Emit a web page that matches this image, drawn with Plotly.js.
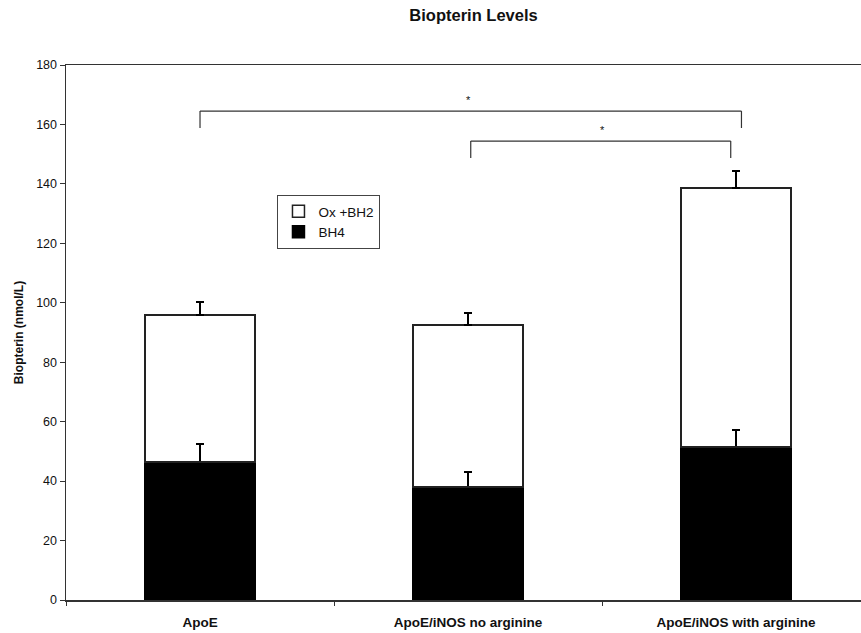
<!DOCTYPE html>
<html><head><meta charset="utf-8">
<script src="https://cdn.plot.ly/plotly-3.0.1.min.js"></script>
<style>body{margin:0;background:#fff}#c{width:861px;height:633px}</style>
</head><body><div id="c"></div>
<script>
const categories = ["ApoE", "ApoE/iNOS no arginine", "ApoE/iNOS with arginine"];
const bh4 = [46.5, 38.0, 51.5];
const bh4Err = [6.0, 5.0, 5.7];
const oxBh2 = [49.4, 54.5, 87.1];
const totalErr = [4.4, 4.1, 5.8];
const legendNames = ["Ox +BH2", "BH4"];
const yTicks = [0, 20, 40, 60, 80, 100, 120, 140, 160, 180];

const sans = "Liberation Sans, Arial, sans-serif";
const lineCol = "#333";

const traces = [
  {type: "bar", name: legendNames[1], x: categories, y: bh4,
   marker: {color: "#000", line: {color: "#000", width: 1.5}},
   error_y: {type: "data", symmetric: false, array: bh4Err, arrayminus: [0,0,0], color: "#000", thickness: 1.5, width: 4}},
  {type: "bar", name: legendNames[0], x: categories, y: oxBh2,
   marker: {color: "rgba(255,255,255,0)", line: {color: "#222", width: 1.5}},
   error_y: {type: "data", symmetric: false, array: totalErr, arrayminus: [0,0,0], color: "#000", thickness: 1.5, width: 4}}
];

const shapes = [];
function bracket(x0, x1, yTop, yBot) {
  const l = {color: "#333", width: 1.2};
  shapes.push({type: "line", xref: "x", yref: "y", x0: x0, x1: x1, y0: yTop, y1: yTop, line: l});
  shapes.push({type: "line", xref: "x", yref: "y", x0: x0, x1: x0, y0: yTop, y1: yBot, line: l});
  shapes.push({type: "line", xref: "x", yref: "y", x0: x1, x1: x1, y0: yTop, y1: yBot, line: l});
}
bracket(0, 2.02, 164.5, 158.8);
bracket(1.01, 1.98, 154.4, 148.7);

const layout = {
  width: 861, height: 633,
  margin: {l: 66, r: 0, t: 65, b: 33},
  paper_bgcolor: "#fff", plot_bgcolor: "#fff",
  barmode: "stack",
  bargap: 0.59,
  showlegend: true,
  title: {text: "<b>Biopterin Levels</b>", x: 0.55, xanchor: "center", y: 0.976, yanchor: "middle",
          font: {family: sans, size: 16.5, color: "#111"}},
  legend: {x: 0.266, y: 0.757, xanchor: "left", yanchor: "top", traceorder: "reversed",
           bgcolor: "#fff", bordercolor: "#444", borderwidth: 1,
           font: {family: sans, size: 13.5, color: "#111"}, itemwidth: 30, tracegroupgap: 0},
  xaxis: {type: "category", range: [-0.5, 2.466], tickson: "boundaries", ticks: "outside", ticklen: 4,
          tickcolor: lineCol, showline: true, linecolor: lineCol, linewidth: 1.5, mirror: true,
          showgrid: false, zeroline: false, ticklabelstandoff: 9,
          tickfont: {family: sans, size: 13.5, color: "#111", weight: "bold"}},
  yaxis: {range: [0, 180], tickvals: yTicks, ticks: "outside", ticklen: 5, tickcolor: lineCol,
          showline: true, linecolor: lineCol, linewidth: 1.5, showgrid: false, zeroline: false,
          tickfont: {family: sans, size: 12.5, color: "#111"},
          title: {text: "<b>Biopterin (nmol/L)</b>", standoff: 10, font: {family: sans, size: 12, color: "#111"}}},
  shapes: shapes,
  annotations: [
    {xref: "x", yref: "y", x: 1.0, y: 165.5, text: "*", showarrow: false, yanchor: "bottom", font: {family: sans, size: 11, color: "#111"}},
    {xref: "x", yref: "y", x: 1.5, y: 155.4, text: "*", showarrow: false, yanchor: "bottom", font: {family: sans, size: 11, color: "#111"}}
  ]
};
Plotly.newPlot("c", traces, layout, {displayModeBar: false, staticPlot: true});
</script></body></html>
